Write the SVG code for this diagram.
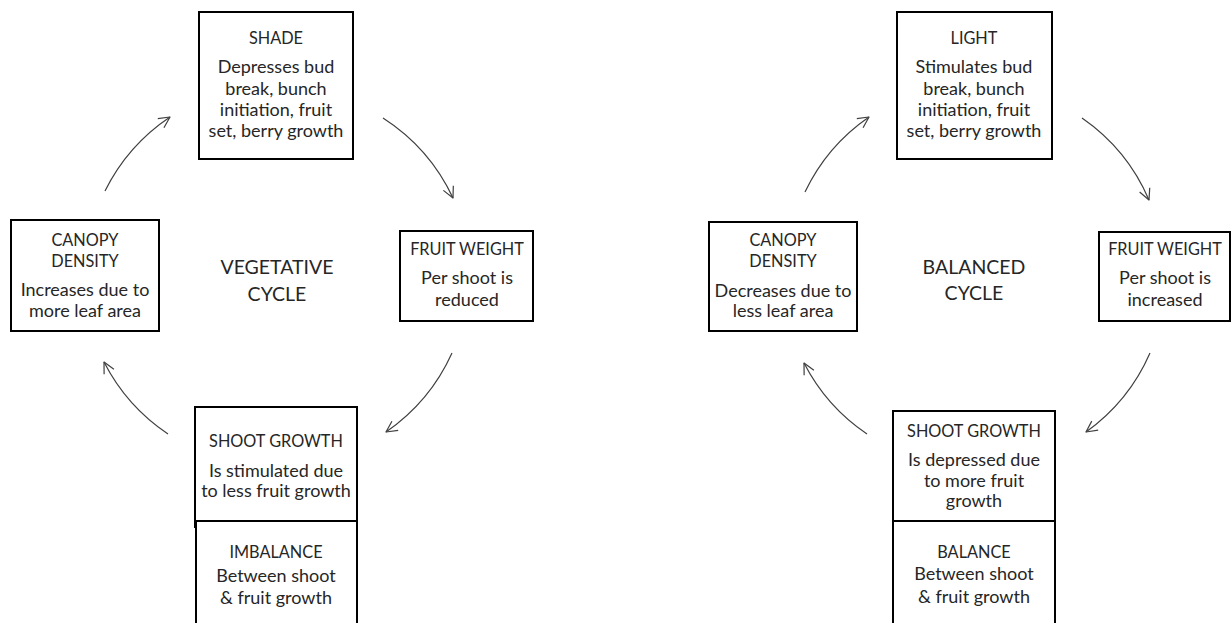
<svg xmlns="http://www.w3.org/2000/svg" width="1231" height="623" viewBox="0 0 1231 623">
<style>
.box{fill:#fff;stroke:#000;stroke-width:2}
.t{font-family:Lato,"Liberation Sans",sans-serif;font-size:18px;fill:#262626;text-anchor:middle}
.h{font-size:16.3px}
.title{font-size:19.5px}
.arrow{fill:none;stroke:#404040;stroke-width:1.2;marker-end:url(#ah)}
</style>
<defs>
<marker id="ah" markerUnits="userSpaceOnUse" viewBox="0 0 10 10" markerWidth="11" markerHeight="11" refX="10" refY="5" orient="auto" overflow="visible">
<path d="M0,0 L10,5 L0,10" fill="none" stroke="#404040" stroke-width="1.1" stroke-linejoin="round"/>
</marker>
</defs>
<rect width="1231" height="623" fill="#fff"/>
<g id="connectors">
<path class="arrow" d="M105,191 A192,192 0 0 1 170,117"/>
<path class="arrow" d="M383,118 A192,192 0 0 1 453,198"/>
<path class="arrow" d="M452,353 A192,192 0 0 1 386,432"/>
<path class="arrow" d="M168,434 A192,192 0 0 1 104,362"/>
<path class="arrow" d="M805,192 A191,191 0 0 1 869,117"/>
<path class="arrow" d="M1082,118 A191,191 0 0 1 1149,200"/>
<path class="arrow" d="M1150,353 A191,191 0 0 1 1086,432"/>
<path class="arrow" d="M867,434 A191,191 0 0 1 804,363"/>
</g>
<g id="shade">
<rect class="box" x="199" y="12" width="154" height="147"/>
<text class="t h" x="276" y="44">SHADE</text>
<text class="t" x="276" y="73">Depresses bud</text>
<text class="t" x="276" y="95">break, bunch</text>
<text class="t" x="276" y="116">initiation, fruit</text>
<text class="t" x="276" y="137">set, berry growth</text>
</g>
<g id="canopy-left">
<rect class="box" x="11" y="220" width="148" height="111"/>
<text class="t h" x="85" y="246">CANOPY</text>
<text class="t h" x="85" y="267">DENSITY</text>
<text class="t" x="85" y="296">Increases due to</text>
<text class="t" x="85" y="317">more leaf area</text>
</g>
<g id="vegetative-cycle">
<text class="t title" x="277" y="274">VEGETATIVE</text>
<text class="t title" x="277" y="301">CYCLE</text>
</g>
<g id="fruit-left">
<rect class="box" x="400" y="231" width="133" height="90"/>
<text class="t h" x="467" y="255">FRUIT WEIGHT</text>
<text class="t" x="467" y="284">Per shoot is</text>
<text class="t" x="467" y="306">reduced</text>
</g>
<g id="shoot-left">
<rect class="box" x="195" y="407" width="162" height="114"/>
<path d="M195,521 V528" stroke="#000" stroke-width="2"/>
<text class="t h" x="276" y="447">SHOOT GROWTH</text>
<text class="t" x="276" y="477">Is stimulated due</text>
<text class="t" x="276" y="497">to less fruit growth</text>
</g>
<g id="imbalance">
<rect class="box" x="196" y="521" width="161" height="120"/>
<text class="t h" x="276" y="558">IMBALANCE</text>
<text class="t" x="276" y="582">Between shoot</text>
<text class="t" x="276" y="604">&amp; fruit growth</text>
</g>
<g id="light">
<rect class="box" x="897" y="12" width="155" height="147"/>
<text class="t h" x="974" y="44">LIGHT</text>
<text class="t" x="974" y="73">Stimulates bud</text>
<text class="t" x="974" y="95">break, bunch</text>
<text class="t" x="974" y="116">initiation, fruit</text>
<text class="t" x="974" y="137">set, berry growth</text>
</g>
<g id="canopy-right">
<rect class="box" x="709" y="222" width="148" height="109"/>
<text class="t h" x="783" y="246">CANOPY</text>
<text class="t h" x="783" y="267">DENSITY</text>
<text class="t" x="783" y="297">Decreases due to</text>
<text class="t" x="783" y="317">less leaf area</text>
</g>
<g id="balanced-cycle">
<text class="t title" x="974" y="274">BALANCED</text>
<text class="t title" x="974" y="300">CYCLE</text>
</g>
<g id="fruit-right">
<rect class="box" x="1099" y="232" width="131" height="89"/>
<text class="t h" x="1165" y="255">FRUIT WEIGHT</text>
<text class="t" x="1165" y="284">Per shoot is</text>
<text class="t" x="1165" y="306">increased</text>
</g>
<g id="shoot-right">
<rect class="box" x="893" y="411" width="162" height="110"/>
<text class="t h" x="974" y="437">SHOOT GROWTH</text>
<text class="t" x="974" y="466">Is depressed due</text>
<text class="t" x="974" y="487">to more fruit</text>
<text class="t" x="974" y="507">growth</text>
</g>
<g id="balance">
<rect class="box" x="893" y="521" width="162" height="120"/>
<text class="t h" x="974" y="558">BALANCE</text>
<text class="t" x="974" y="580">Between shoot</text>
<text class="t" x="974" y="603">&amp; fruit growth</text>
</g>
</svg>
